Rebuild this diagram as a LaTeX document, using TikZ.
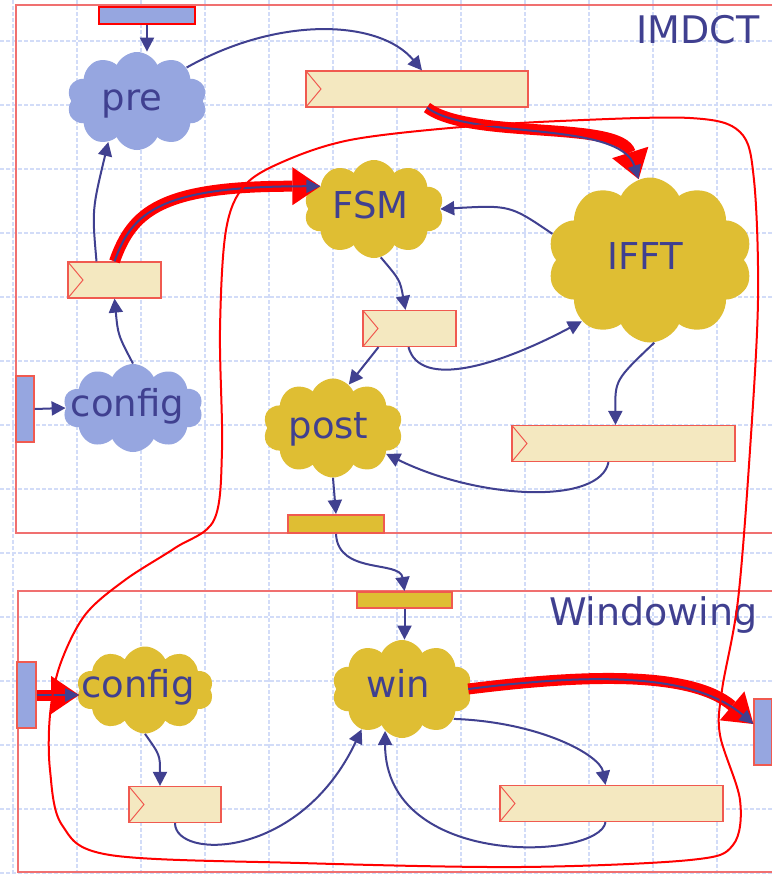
\documentclass[tikz,border=0pt]{standalone}
\usepackage{fontspec}
\setmainfont{DejaVu Sans}
\usetikzlibrary{arrows.meta,shapes.symbols,calc}
\definecolor{ink}{HTML}{404090}
\definecolor{cloudblue}{HTML}{96A6E0}
\definecolor{gold}{HTML}{DFBE33}
\definecolor{bufferfill}{HTML}{F4E8C0}
\definecolor{edgered}{HTML}{F05A50}
\definecolor{framered}{HTML}{F07070}
\definecolor{gridblue}{HTML}{D2DCF8}

\begin{document}
\begin{tikzpicture}[x=0.5pt,y=-0.5pt,
  puff/.style={cloud, cloud puffs=10, cloud puff arc=130, cloud ignores aspect, inner sep=0pt},
  bluepuff/.style={puff, fill=cloudblue},
  goldpuff/.style={puff, fill=gold},
  word/.style={text=ink, font=\fontsize{18.5}{20}\selectfont, inner sep=0pt, anchor=base},
  title/.style={text=ink, font=\fontsize{19}{22}\selectfont, inner sep=0pt, anchor=base east},
  buffer/.style={draw=edgered, line width=0.6pt, fill=bufferfill, minimum height=18pt, inner sep=0pt,
    path picture={\draw[edgered, line width=0.5pt] (path picture bounding box.north west)
      -- ([xshift=7.5pt]path picture bounding box.west) -- (path picture bounding box.south west);}},
  port/.style={draw=edgered, line width=0.6pt, inner sep=0pt},
  link/.style={draw=ink, line width=1pt, -{Triangle[length=7pt,width=7pt]}},
  hotcore/.style={draw=ink, line width=1pt, -{Triangle[length=7pt,width=6.5pt]}},
  hotpath/.style={draw=red, line width=5.5pt, -{Triangle[length=14pt,width=19pt,line width=0pt]}},
  gridline/.style={draw=gridblue, line width=1pt, dash pattern=on 2pt off 1pt},
  frame/.style={draw=framered, line width=0.6pt}
]
\useasboundingbox[fill=white] (0,0) rectangle (772,874);

% background grid
\foreach \gx in {13,77,...,717} \draw[gridline] (\gx,0) -- (\gx,874);
\foreach \gy in {41,105,...,873} \draw[gridline] (0,\gy) -- (772,\gy);

% the two blocks
\draw[frame] (790,5) -- (16,5) -- (16,533) -- (790,533);
\draw[frame] (790,591) -- (18,591) -- (18,872) -- (790,872);
\node[title] (imdcttitle) at (760,43) {IMDCT};
\node[title] (wintitle) at (758,625) {Windowing};

% ports
\node[port, draw=red, line width=1.2pt, fill=cloudblue, minimum width=48pt, minimum height=8.5pt] (tp) at (147,15.5) {};
\node[port, fill=cloudblue, minimum width=9pt, minimum height=33pt] (pl) at (25,409) {};
\node[port, fill=gold, line width=1pt, minimum width=48pt, minimum height=9pt] (po) at (336,524) {};
\node[port, fill=gold, line width=1pt, minimum width=47.5pt, minimum height=8pt] (wi) at (404.5,600) {};
\node[port, fill=cloudblue, minimum width=9.5pt, minimum height=33pt] (pl2) at (26.5,695) {};
\node[port, fill=cloudblue, minimum width=9pt, minimum height=33pt] (pr) at (763,732) {};

% buffers
\node[buffer, minimum width=111pt] (b1) at (417,89) {};
\node[buffer, minimum width=46.5pt] (b2) at (114.5,280) {};
\node[buffer, minimum width=46.5pt] (b3) at (409.5,328.5) {};
\node[buffer, minimum width=111.5pt] (b4) at (623.5,443.5) {};
\node[buffer, minimum width=46pt] (b5) at (175,804.5) {};
\node[buffer, minimum width=111.5pt] (b6) at (611.5,803.5) {};

% processes
\node[bluepuff, minimum width=70pt, minimum height=49pt] (pre) at (137,101) {};
\node[bluepuff, minimum width=70pt, minimum height=44pt] (cfgA) at (133,408) {};
\node[goldpuff, minimum width=70pt, minimum height=49pt] (fsm) at (374,209) {};
\node[goldpuff, minimum width=102.5pt, minimum height=82.5pt] (ifft) at (650,260) {};
\node[goldpuff, minimum width=70pt, minimum height=49.5pt] (post) at (333,428) {};
\node[goldpuff, minimum width=68.5pt, minimum height=43.5pt] (cfgB) at (145,690) {};
\node[goldpuff, minimum width=70pt, minimum height=49pt] (win) at (402,689) {};

\node[word] (pretext) at (132,110) {pre};
\node[word] (cfgAtext) at (127.5,416) {config};
\node[word] (fsmtext) at (370.5,218) {FSM};
\node[word] (iffttext) at (645,269) {IFFT};
\node[word] (posttext) at (328.5,438) {post};
\node[word] (cfgBtext) at (138,697) {config};
\node[word] (wintext) at (398,697) {win};

% data flow
\draw[link] (tp.south) -- (tp.south |- pre.north);
\draw[link] (pre.34) .. controls (280,15) and (380,20) .. ($(b1.north)+(5,0)$);
\draw[link] ($(b2.north)+(-18,0)$) .. controls (92,210) .. (pre.235);
\draw[link] (cfgA.north) .. controls (118,335) .. (b2.south);
\draw[link] (pl.east) -- (cfgA.west);
\draw[link] (ifft.165) .. controls (510,205) .. (fsm.east);
\draw[link] (fsm.-82) .. controls (400,280) .. ($(b3.north)+(-4,0)$);
\draw[link] ($(b3.south)+(-1,0)$) .. controls (420,390) and (500,365) .. (ifft.222);
\draw[link] ($(b3.south)+(-31,0)$) -- (post.70);
\draw[link] (ifft.-87) .. controls (615,380) .. ($(b4.north)+(-8,0)$);
\draw[link] ($(b4.south)+(-15,0)$) .. controls (600,505) and (480,500) .. (post.-26);
\draw[link] (post.south) -- (po.north);
\draw[link] (po.south) .. controls (338,575) and (400,560) .. (wi.north);
\draw[link] (wi.south) -- (wi.south |- win.north);
\draw[link] (cfgB.south) .. controls (160,755) .. ($(b5.north)+(-15,0)$);
\draw[link] (b5.south) .. controls (175,860) and (300,860) .. (win.225);
\draw[link] (win.-30) .. controls (540,722) and (600,755) .. ($(b6.north)+(-6,0)$);
\draw[link] ($(b6.south)+(-6,0)$) .. controls (600,860) and (385,870) .. (win.-112);

% critical path
\draw[hotpath] (b2.north) .. controls (132,212) and (160,186) .. (fsm.157);
\draw[hotcore] (b2.north) .. controls (132,212) and (160,186) .. (fsm.157);
\draw[hotpath] ($(b1.south)+(10,0)$) .. controls (470,140) and (620,120) .. (ifft.98);
\draw[hotcore] ($(b1.south)+(10,0)$) .. controls (470,140) and (620,120) .. (ifft.98);
\draw[hotpath] (pl2.east) -- (pl2.east -| cfgB.west);
\draw[hotcore] (pl2.east) -- (pl2.east -| cfgB.west);
\draw[hotpath] (win.east) .. controls (580,675) and (690,670) .. ($(pr.west)+(0,-8)$);
\draw[hotcore] (win.east) .. controls (580,675) and (690,670) .. ($(pr.west)+(0,-8)$);

% boundary loop
\draw[red, line width=1pt] plot[smooth cycle, tension=0.55] coordinates {
  (287,160) (350,140) (450,128) (560,121) (690,118) (740,132) (754,180) (758,300)
  (750,450) (738,600) (722,690) (720,735) (740,800) (733,845) (690,860) (520,867)
  (300,863) (110,855) (62,825) (50,770) (50,715) (60,665) (85,615) (125,580)
  (175,548) (214,520) (222,450) (220,330) (226,230) (245,185)};
\end{tikzpicture}
\end{document}
